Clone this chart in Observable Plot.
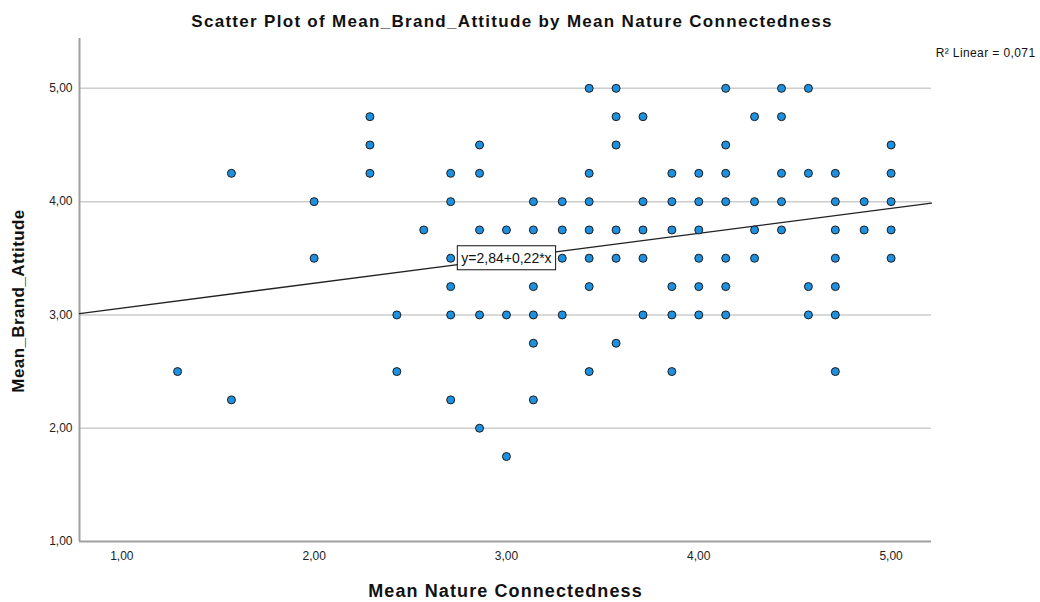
<!DOCTYPE html>
<html>
<head>
<meta charset="utf-8">
<script src="https://cdn.jsdelivr.net/npm/d3@7"></script>
<script src="https://cdn.jsdelivr.net/npm/@observablehq/plot@0.6"></script>
<style>
  body { margin: 0; background: #fff; font-family: "Liberation Sans", Arial, sans-serif; }
  #title {
    width: 1024px; height: 30px; box-sizing: border-box; padding-top: 13px;
    font-size: 17px; line-height: 18px; font-weight: bold; text-align: center; color: #111;
    letter-spacing: 1.3px;
  }
</style>
</head>
<body>
<div id="title">Scatter Plot of Mean_Brand_Attitude by Mean Nature Connectedness</div>
<div id="chart"></div>
<script>
// Mean nature connectedness levels (x) and the brand attitude scores observed at each level (y)
const nature = [1.29, 1.57, 2.00, 2.29, 2.43, 2.57, 2.71, 2.86, 3.00, 3.14, 3.29, 3.43,
                3.57, 3.71, 3.86, 4.00, 4.14, 4.29, 4.43, 4.57, 4.71, 4.86, 5.00];
const attitude = [
  [2.50],
  [4.25, 2.25],
  [4.00, 3.50],
  [4.75, 4.50, 4.25],
  [3.00, 2.50],
  [3.75],
  [4.25, 4.00, 3.50, 3.25, 3.00, 2.25],
  [4.50, 4.25, 3.75, 3.00, 2.00],
  [3.75, 3.00, 1.75],
  [4.00, 3.75, 3.25, 3.00, 2.75, 2.25],
  [4.00, 3.75, 3.50, 3.00],
  [5.00, 4.25, 4.00, 3.75, 3.50, 3.25, 2.50],
  [5.00, 4.75, 4.50, 3.75, 3.50, 2.75],
  [4.75, 4.00, 3.75, 3.50, 3.00],
  [4.25, 4.00, 3.75, 3.25, 3.00, 2.50],
  [4.25, 4.00, 3.75, 3.50, 3.25, 3.00],
  [5.00, 4.50, 4.25, 4.00, 3.50, 3.25, 3.00],
  [4.75, 4.00, 3.75, 3.50],
  [5.00, 4.75, 4.25, 4.00, 3.75],
  [5.00, 4.25, 3.25, 3.00],
  [4.25, 4.00, 3.75, 3.50, 3.25, 3.00, 2.50],
  [4.00, 3.75],
  [4.50, 4.25, 4.00, 3.75, 3.50]
];

// Linear fit reported with the chart
const intercept = 2.84;
const slope = 0.22;
const rSquared = 0.071;

const xTicks = [1, 2, 3, 4, 5];
const yTicks = [1, 2, 3, 4, 5];
const gridLines = [2, 3, 4, 5];
const xDomain = [0.78, 5.21];
const yDomain = [1, 5.44];

const xLabel = "Mean Nature Connectedness";
const yLabel = "Mean_Brand_Attitude";

const comma = v => v.toFixed(2).replace(".", ",");
const points = nature.flatMap((x, i) => attitude[i].map(y => ({nature: x, attitude: y})));
const fitLine = xDomain.map(x => ({x, y: intercept + slope * x}));
const eqX = 3;
const eqText = `y=${comma(intercept)}+${comma(slope)}*x`;
const rText = `R² Linear = ${rSquared.toFixed(3).replace(".", ",")}`;

const font = '"Liberation Sans", Arial, sans-serif';

const chart = Plot.plot({
  width: 1040,
  height: 572,
  marginTop: 8,
  marginBottom: 61,
  marginLeft: 79,
  marginRight: 109,
  style: {fontFamily: font, fontSize: "12px", color: "#222", background: "#fff"},
  x: {domain: xDomain, ticks: xTicks, tickFormat: comma, tickSize: 0, tickPadding: 10, label: null},
  y: {domain: yDomain, ticks: yTicks, tickFormat: comma, tickSize: 0, tickPadding: 7, label: null},
  marks: [
    Plot.ruleY(gridLines, {stroke: "#cdcdcd", strokeWidth: 1.5}),
    Plot.ruleX([xDomain[0]], {stroke: "#a0a0a0", strokeWidth: 2}),
    Plot.ruleY([yDomain[0]], {stroke: "#a0a0a0", strokeWidth: 2}),
    Plot.line(fitLine, {x: "x", y: "y", stroke: "#222", strokeWidth: 1.3}),
    Plot.dot(points, {x: "nature", y: "attitude", r: 4, fill: "#1e90e0", stroke: "#1c1c1c", strokeWidth: 1}),
    Plot.text([eqText], {x: () => eqX, y: () => intercept + slope * eqX, text: d => d,
      fontSize: 14, fill: "#111"}),
    Plot.text([rText], {frameAnchor: "top-right", dx: 104, dy: 10, textAnchor: "end",
      text: d => d, fontSize: 12, fill: "#111"}),
    Plot.text([xLabel], {frameAnchor: "bottom", dy: 55, text: d => d,
      fontSize: 18, fontWeight: "bold", fill: "#111"}),
    Plot.text([yLabel], {frameAnchor: "left", textAnchor: "middle", dx: -61, dy: 11, rotate: -90,
      text: d => d, fontSize: 17, fontWeight: "bold", fill: "#111"})
  ]
});

document.getElementById("chart").appendChild(chart);

const texts = d3.select(chart).selectAll("text");
const spacing = {[xLabel]: "1.1px", [yLabel]: "0.4px", [rText]: "0.4px"};
texts.filter(function () { return this.textContent in spacing; })
  .style("letter-spacing", function () { return spacing[this.textContent]; });

// White box with a black border behind the fit equation
texts.filter(function () { return this.textContent === eqText; })
  .each(function () {
    const b = this.getBBox();
    const padX = 4, padY = 4;
    d3.select(this.parentNode).insert("rect", () => this)
      .attr("transform", this.getAttribute("transform"))
      .attr("x", b.x - padX)
      .attr("y", b.y - padY)
      .attr("width", b.width + 2 * padX)
      .attr("height", b.height + 2 * padY)
      .attr("fill", "#fff")
      .attr("stroke", "#111")
      .attr("stroke-width", 1);
  });
</script>
</body>
</html>
